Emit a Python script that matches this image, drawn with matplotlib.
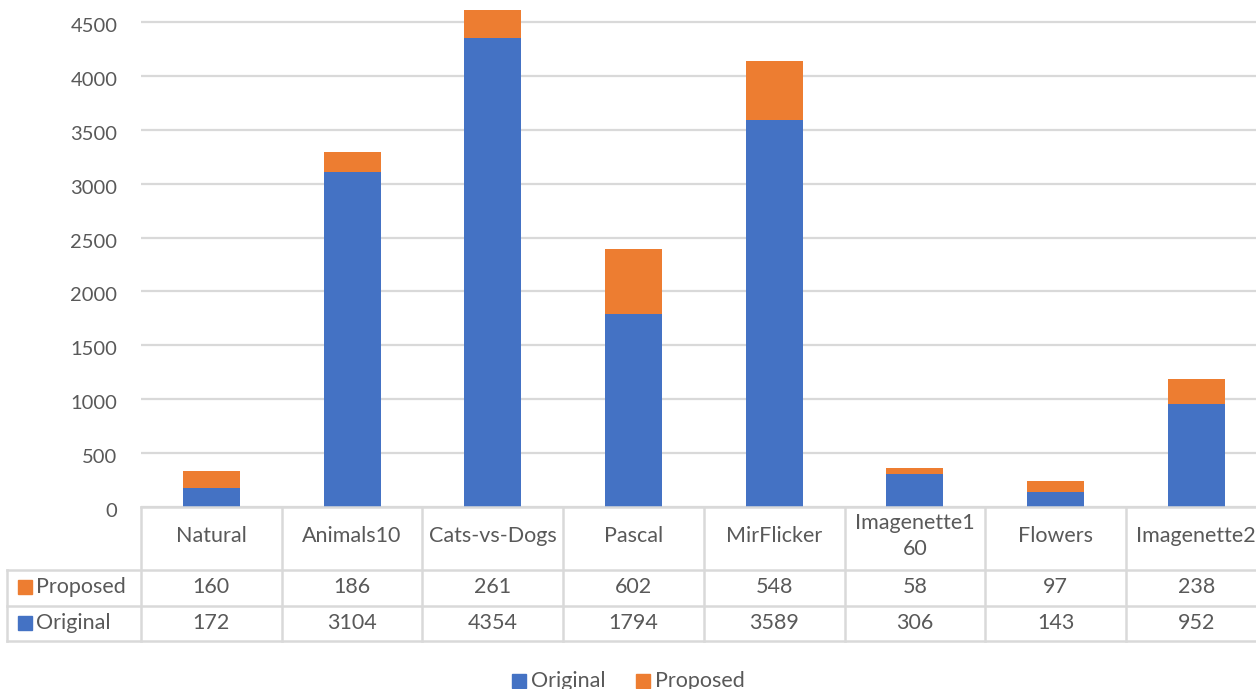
import numpy as np
import matplotlib.pyplot as plt
import matplotlib.transforms as mtransforms
from matplotlib.lines import Line2D
from matplotlib.patches import Rectangle

# data
categories = ['Natural', 'Animals10', 'Cats-vs-Dogs', 'Pascal', 'MirFlicker',
              'Imagenette1\n60', 'Flowers', 'Imagenette2']
original = [172, 3104, 4354, 1794, 3589, 306, 143, 952]
proposed = [160, 186, 261, 602, 548, 58, 97, 238]
yticks = [0, 500, 1000, 1500, 2000, 2500, 3000, 3500, 4000, 4500]

blue = '#4472C4'
orange = '#ED7D31'
txt = '#595959'
grid = '#d9d9d9'
fs = 15.5

plt.rcParams['font.family'] = ['Lato', 'DejaVu Sans']

W, H = 1256, 689
fig = plt.figure(figsize=(W / 100, H / 100), dpi=100)

def fx(px):
    return px / W

def fy(py):
    return 1 - py / H

cell = 140.7
ax = fig.add_axes([fx(141), fy(507), 8 * cell / W, 507 / H])
x = np.arange(len(categories))
ax.bar(x, original, 0.405, color=blue, zorder=3)
ax.bar(x, proposed, 0.405, bottom=original, color=orange, zorder=3)
ax.set_xlim(-0.5, 7.5)
ax.set_ylim(0, 4704)
ax.set_yticks(yticks)
ax.set_xticks([])
ax.yaxis.grid(True, color=grid, lw=1.6, zorder=0)
for s in ax.spines.values():
    s.set_visible(False)
ax.tick_params(axis='y', length=0, pad=17, labelsize=14.5, labelcolor=txt)
# labels sit a little below their gridlines, as in the original
shift = mtransforms.ScaledTranslation(0, -3 / 100, fig.dpi_scale_trans)
for lab in ax.get_yticklabels():
    lab.set_transform(lab.get_transform() + shift)

# data table below the plot
def line(x0, y0, x1, y1):
    fig.add_artist(Line2D([fx(x0), fx(x1)], [fy(y0), fy(y1)], color=grid, lw=1.8))

right = 141 + 8 * cell
line(141, 507, right, 507)
for yy in [570, 606, 641]:
    line(7, yy, right, yy)
line(7, 570, 7, 641)
for i in range(9):
    xx = 141 + i * cell
    line(xx, 507, xx, 641)

for i, c in enumerate(categories):
    xc = 141 + (i + 0.5) * cell
    fig.text(fx(xc), fy(536), c, ha='center', va='center', fontsize=fs,
             color=txt, linespacing=1.35)
    fig.text(fx(xc), fy(587), str(proposed[i]), ha='center', va='center',
             fontsize=fs, color=txt)
    fig.text(fx(xc), fy(623), str(original[i]), ha='center', va='center',
             fontsize=fs, color=txt)

for yy, name, col in [(587, 'Proposed', orange), (623, 'Original', blue)]:
    fig.add_artist(Rectangle((fx(18), fy(yy + 7)), 14 / W, 14 / H, color=col))
    fig.text(fx(36), fy(yy), name, ha='left', va='center', fontsize=fs, color=txt)

# legend at the bottom
for x0, name, col in [(512, 'Original', blue), (636, 'Proposed', orange)]:
    fig.add_artist(Rectangle((fx(x0), fy(688)), 14 / W, 14 / H, color=col))
    fig.text(fx(x0 + 19), fy(681), name, ha='left', va='center', fontsize=fs, color=txt)

fig.savefig('out.png', dpi=100)
